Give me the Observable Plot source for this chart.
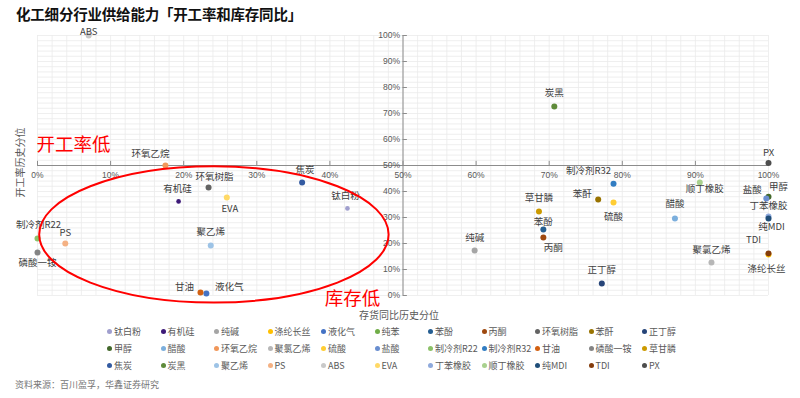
<!DOCTYPE html>
<html><head><meta charset="utf-8">
<script src="https://cdn.jsdelivr.net/npm/d3@7"></script>
<script src="https://cdn.jsdelivr.net/npm/@observablehq/plot@0.6"></script>
<style>
body{margin:0;background:#fff;font-family:"Noto Sans CJK SC",sans-serif;width:800px;height:398px;overflow:hidden;position:relative}
#title{position:absolute;left:16px;top:3px;font-size:14.5px;font-weight:bold;color:#111;letter-spacing:-0.2px}
#chart{position:absolute;left:0;top:24px}
#legend{position:absolute;left:0;top:324px;width:800px;height:51px}
.li{position:absolute;font-size:9px;color:#595959;white-space:nowrap;line-height:12px}
.li span{display:inline-block;width:5px;height:5px;border-radius:50%;margin-right:2px;vertical-align:middle;position:relative;top:-1px}
#src{position:absolute;left:15px;top:378px;font-size:9px;color:#777}
</style></head><body>
<div id="title">化工细分行业供给能力「开工率和库存同比」</div>
<div id="chart"></div>
<div id="legend"></div>
<div id="src">资料来源：百川盈孚，华鑫证券研究</div>
<script>
// ---- data ----
const names = ["钛白粉","有机硅","纯碱","涤纶长丝","液化气","纯苯","苯酚","丙酮","环氧树脂","苯酐","正丁醇",
  "甲醇","醋酸","环氧乙烷","聚氯乙烯","硫酸","盐酸","制冷剂R22","制冷剂R32","甘油","磷酸一铵","草甘膦",
  "焦炭","炭黑","聚乙烯","PS","ABS","EVA","丁苯橡胶","顺丁橡胶","纯MDI","TDI","PX"];
// inventory YoY historical percentile (x, %)
const inventoryPct = [42.4,19.3,59.8,100,23.1,null,69.2,69.2,23.4,76.7,77.2,
  100,87.2,17.5,92.2,78.8,99.7,0,78.8,22.3,0,68.6,
  36.2,70.7,23.7,3.8,7,25.9,100,90.6,100,100,100];
// operating-rate historical percentile (y, %)
const utilizationPct = [33.5,36.2,17.3,15.8,0.8,null,25.4,22.3,41.5,36.9,4.6,
  38,29.6,50,12.7,35.8,37.3,21.9,43,1.2,16.5,32.3,
  43.5,72.7,19.2,20,100,37.7,30.4,43.5,29.6,16.2,51];
const colors = ["#a09fce","#3d1a78","#a5a5a5","#ffc000","#4472c4","#70ad47","#255e91","#9e480e","#636363","#997300","#264478",
  "#43682b","#7cafdd","#f1975a","#b7b7b7","#ffcd33","#698ed0","#8cc168","#327dc2","#d26012","#848484","#cc9a00",
  "#335aa1","#5f8b3a","#9dc3e6","#f4b183","#c9c9c9","#ffd966","#8faadc","#a9d18e","#1f4e79","#843c0c","#4d4d4d"];
const xTicks = [0,10,20,30,40,50,60,70,80,90,100];
const yTicks = [0,10,20,30,40,50,60,70,80,90,100];
// label offsets (px) for each point label
const labelDx = [-2,-1,0,-2,23,0,0,10,6,-16,0, 10,0,-15,0,0,-14,1,-25,-16,0,0, 3,0,0,0,0,3,0,5,3,-15,0];
const labelDy = [-12,-12,-13,15,-6,0,-8,10,-11,-6,-14, -10,-15,-12,-13,15,-9,-14,-13,-5,10,-14, -12,-14,-14,-11,-4,11,-11,7,8,-13,-10];
const smallDots = ["钛白粉","有机硅"];
const ellipseSpec = {cx: 24.2, cy: 23.3, rx: 23.9, ry: 26.2};

const pts = names.map((n,i)=>({name:n, x:inventoryPct[i], y:utilizationPct[i], color:colors[i], dx:labelDx[i], dy:labelDy[i]}))
  .filter(d=>d.x!=null);

const labelFont = {fontFamily:"'Noto Sans CJK SC',sans-serif", fontSize:9.5, fill:"#404040"};
const tickFont = {fontFamily:"'Liberation Sans',Arial,sans-serif", fontSize:8.5, fill:"#595959"};

const plot = Plot.plot({
  width: 800, height: 300,
  marginLeft: 37, marginRight: 32, marginTop: 11, marginBottom: 29,
  x: {domain:[0,100], axis:null},
  y: {domain:[0,100], axis:null},
  style: {background:"transparent", overflow:"visible"},
  marks: [
    Plot.ruleX(d3.range(0,101,2), {y1:0, y2:100, stroke:"#ebebeb", strokeWidth:0.8}),
    Plot.ruleY(d3.range(0,101,2), {x1:0, x2:100, stroke:"#ebebeb", strokeWidth:0.8}),
    Plot.ruleY([50], {x1:0, x2:100, stroke:"#8c8c8c"}),
    Plot.ruleX([50], {y1:0, y2:100, stroke:"#8c8c8c"}),
    Plot.ruleX(xTicks, {x:d=>d, y1:50, y2:51.6, stroke:"#8c8c8c"}),
    Plot.ruleY(yTicks, {y:d=>d, x1:50, x2:50.6, stroke:"#8c8c8c"}),
    Plot.text(xTicks, {x:d=>d, y:50, dy:10, text:d=>d+"%", ...tickFont}),
    Plot.text(yTicks, {x:50, y:d=>d, dx:-3, textAnchor:"end", text:d=>d+"%", ...tickFont}),
    Plot.dot(pts, {x:"x", y:"y", r:d=>smallDots.includes(d.name)?2:3.3, fill:"color"}),
    ...pts.map(p=>Plot.text([p], {x:"x", y:"y", text:"name", dx:p.dx, dy:p.dy, ...labelFont})),
    Plot.text(["开工率历史分位"], {x:-2.3, y:51.2, rotate:-90, text:d=>d, fontFamily:"'Noto Sans CJK SC',sans-serif", fontSize:10, fill:"#595959"}),
    Plot.text(["存货同比历史分位"], {frameAnchor:"bottom", dx:-4, dy:23, text:d=>d, fontFamily:"'Noto Sans CJK SC',sans-serif", fontSize:10, fill:"#595959"}),
    Plot.text(["开工率低"], {x:0, y:58, textAnchor:"start", dx:-1, text:d=>d, fontFamily:"'Noto Sans CJK SC',sans-serif", fontSize:18.5, fill:"#ff0000"}),
    Plot.text(["库存低"], {x:43.1, y:-1.2, text:d=>d, fontFamily:"'Noto Sans CJK SC',sans-serif", fontSize:18.5, fill:"#ff0000"})
  ]
});
const sx = plot.scale("x"), sy = plot.scale("y");
const cx = sx.apply(ellipseSpec.cx), cy = sy.apply(ellipseSpec.cy);
const rx = sx.apply(ellipseSpec.cx+ellipseSpec.rx)-cx, ry = cy - sy.apply(ellipseSpec.cy+ellipseSpec.ry);
d3.select(plot).append("ellipse").attr("cx",cx).attr("cy",cy).attr("rx",rx).attr("ry",ry)
  .attr("fill","none").attr("stroke","#ff0000").attr("stroke-width",2);
document.getElementById("chart").appendChild(plot);

// legend
const leg = d3.select("#legend");
names.forEach((n,i)=>{
  const row = Math.floor(i/11), col = i%11;
  const item = leg.append("div").attr("class","li")
    .style("left",(107+col*53.5)+"px").style("top",(2+row*17)+"px");
  item.append("span").style("background",colors[i]);
  item.append("text").text(n);
});
</script>
</body></html>
